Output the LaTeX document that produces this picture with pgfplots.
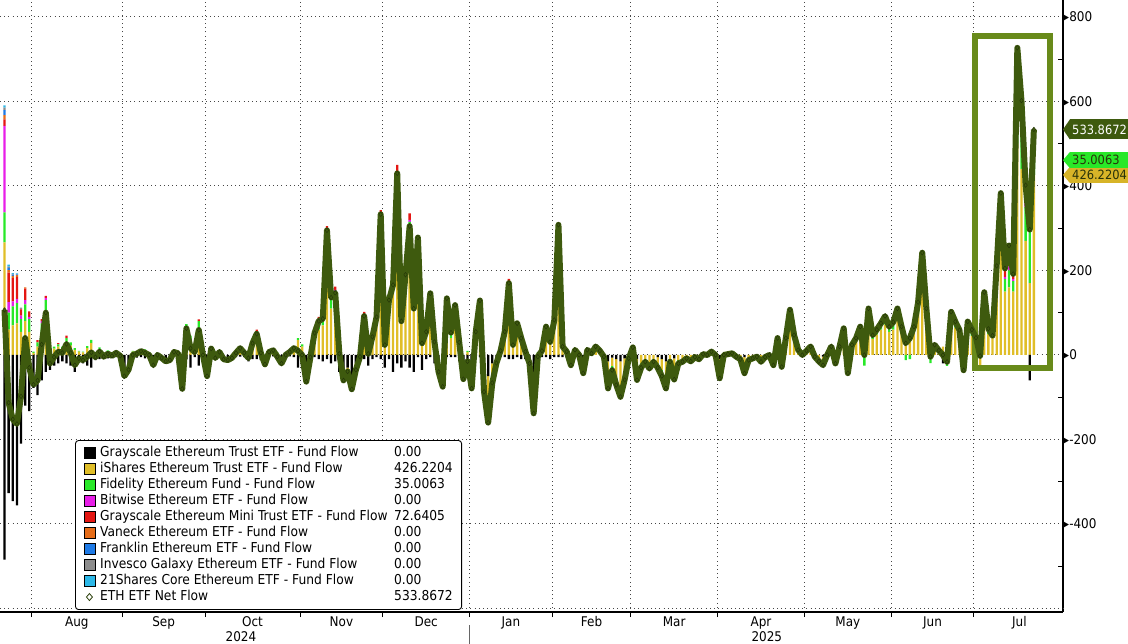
\documentclass[border=0pt]{standalone}
\usepackage{fontspec}
\setmainfont{DejaVu Sans Condensed}
\usepackage{pgfplots}
\pgfplotsset{compat=1.18}
\usepackage{pgfplotstable}
\definecolor{cEthe}{RGB}{0,0,0}
\definecolor{cEtha}{RGB}{224,190,40}
\definecolor{cFeth}{RGB}{40,232,40}
\definecolor{cEthw}{RGB}{232,30,232}
\definecolor{cMini}{RGB}{228,22,18}
\definecolor{cVane}{RGB}{230,108,24}
\definecolor{cFran}{RGB}{30,122,230}
\definecolor{cInve}{RGB}{140,140,140}
\definecolor{cCtw}{RGB}{44,184,232}
\definecolor{cLine}{RGB}{62,90,14}
\definecolor{cRect}{RGB}{104,138,26}
\definecolor{cGrid}{RGB}{70,70,70}
\definecolor{cTagY}{RGB}{215,180,40}
\definecolor{cTagTxt}{RGB}{40,50,10}
\pgfplotstableread{
i net ethe etha feth ethw mini vane fran inve ctw
0 106.6 -484.1 266.5 71.3 204.2 15.7 10 12 6 4.9
1 -113 -327 60 40 25 70 6 5 3 5
2 -152 -346 70 45 12 55 5 3 2 2
3 -163 -356 75 48 10 52 4 2 1 1
4 -98 -210 55 30 8 15 2 1 1 0
5 40 -120 80 40 10 27 3 0 0 0
6 -30 -133 55 30 5 13 0 0 0 0
7 -70 -78 5 3 0 0 0 0 0 0
8 -60 -95 20 10 0 5 0 0 0 0
9 25 -60 50 25 5 5 0 0 0 0
10 100 -40 90 40 5 5 0 0 0 0
11 -20 -35 10 5 0 0 0 0 0 0
12 -5 -25 15 5 0 0 0 0 0 0
13 8 -20 20 5 0 3 0 0 0 0
14 5 -15 15 5 0 0 0 0 0 0
15 26 -20 30 10 0 6 0 0 0 0
16 5 -25 22 8 0 0 0 0 0 0
17 -24 -40 12 4 0 0 0 0 0 0
18 -8 -18 8 2 0 0 0 0 0 0
19 -12 -20 6 2 0 0 0 0 0 0
20 -4 -25 16 5 0 0 0 0 0 0
21 6 -30 28 8 0 0 0 0 0 0
22 -5 -12 5 2 0 0 0 0 0 0
23 8 -10 13 5 0 0 0 0 0 0
24 -4 -9 4 1 0 0 0 0 0 0
25 3 -8 8 3 0 0 0 0 0 0
26 -2 -6 3 1 0 0 0 0 0 0
27 5 -5 8 2 0 0 0 0 0 0
28 -2 -4 2 0 0 0 0 0 0 0
29 -50 -40 -5 -5 0 0 0 0 0 0
30 -35 -30 0 -5 0 0 0 0 0 0
31 0 -10 8 2 0 0 0 0 0 0
32 3 -6 7 2 0 0 0 0 0 0
33 9 -5 11 3 0 0 0 0 0 0
34 5 -8 10 3 0 0 0 0 0 0
35 0 -6 5 1 0 0 0 0 0 0
36 -24 -20 0 -4 0 0 0 0 0 0
37 0 -5 4 1 0 0 0 0 0 0
38 -7 -7 0 0 0 0 0 0 0 0
39 -15 -15 0 0 0 0 0 0 0 0
40 -12 -10 0 -2 0 0 0 0 0 0
41 7 -3 8 2 0 0 0 0 0 0
42 4 -4 6 2 0 0 0 0 0 0
43 -80 -80 0 0 0 0 0 0 0 0
44 63 -10 55 18 0 0 0 0 0 0
45 16 -30 35 11 0 0 0 0 0 0
46 7 -5 9 3 0 0 0 0 0 0
47 59 -25 60 20 0 4 0 0 0 0
48 0 -10 8 2 0 0 0 0 0 0
49 -50 -40 -5 -5 0 0 0 0 0 0
50 15 -5 15 5 0 0 0 0 0 0
51 -7 -10 2 1 0 0 0 0 0 0
52 7 -5 9 3 0 0 0 0 0 0
53 -10 -10 0 0 0 0 0 0 0 0
54 -12 -12 0 0 0 0 0 0 0 0
55 -7 -7 0 0 0 0 0 0 0 0
56 5 -5 8 2 0 0 0 0 0 0
57 16 -4 15 5 0 0 0 0 0 0
58 5 -5 7 3 0 0 0 0 0 0
59 -7 -15 6 2 0 0 0 0 0 0
60 28 -10 28 10 0 0 0 0 0 0
61 50 -10 40 12 0 8 0 0 0 0
62 5 -12 12 5 0 0 0 0 0 0
63 -22 -22 0 0 0 0 0 0 0 0
64 7 -5 9 3 0 0 0 0 0 0
65 11 -3 10 4 0 0 0 0 0 0
66 -4 -10 5 1 0 0 0 0 0 0
67 -20 -20 0 0 0 0 0 0 0 0
68 0 -6 5 1 0 0 0 0 0 0
69 7 -3 7 3 0 0 0 0 0 0
70 16 -5 16 5 0 0 0 0 0 0
71 10 -30 35 5 0 0 0 0 0 0
72 0 -25 20 5 0 0 0 0 0 0
73 -63 -45 -8 -10 0 0 0 0 0 0
74 -5 -20 10 5 0 0 0 0 0 0
75 52 -5 40 15 0 2 0 0 0 0
76 80 -10 60 25 0 5 0 0 0 0
77 86 -15 70 25 0 6 0 0 0 0
78 295 -10 250 40 5 10 0 0 0 0
79 136 -20 110 35 5 6 0 0 0 0
80 147 -15 120 30 4 8 0 0 0 0
81 3 -40 30 10 0 3 0 0 0 0
82 -60 -40 -10 -10 0 0 0 0 0 0
83 -39 -30 -5 -4 0 0 0 0 0 0
84 -81 -50 -15 -16 0 0 0 0 0 0
85 -35 -20 -10 -5 0 0 0 0 0 0
86 -4 -15 8 3 0 0 0 0 0 0
87 92 -10 75 20 0 7 0 0 0 0
88 3 -25 20 8 0 0 0 0 0 0
89 43 -10 40 10 0 3 0 0 0 0
90 90 -5 70 20 0 5 0 0 0 0
91 333 -10 250 70 8 15 0 0 0 0
92 24 -30 40 12 0 2 0 0 0 0
93 130 -10 100 30 0 10 0 0 0 0
94 166 -40 150 45 3 8 0 0 0 0
95 430 -20 300 120 5 25 0 0 0 0
96 80 -30 80 25 0 5 0 0 0 0
97 190 -15 150 45 0 10 0 0 0 0
98 305 -30 250 65 5 15 0 0 0 0
99 110 -40 110 30 0 10 0 0 0 0
100 278 -5 200 50 8 25 0 0 0 0
101 28 -35 45 15 3 0 0 0 0 0
102 55 -10 45 15 0 5 0 0 0 0
103 146 -5 110 35 0 6 0 0 0 0
104 31 -20 40 11 0 0 0 0 0 0
105 -40 -20 -10 -10 0 0 0 0 0 0
106 -75 -30 -25 -15 0 -5 0 0 0 0
107 134 -5 100 35 0 4 0 0 0 0
108 53 -5 40 15 0 3 0 0 0 0
109 118 -5 90 28 0 5 0 0 0 0
110 30 -15 35 10 0 0 0 0 0 0
111 -57 -20 -25 -12 0 0 0 0 0 0
112 -15 -25 7 3 0 0 0 0 0 0
113 -79 -20 -40 -15 0 -4 0 0 0 0
114 55 -10 45 15 0 5 0 0 0 0
115 129 -5 100 28 0 6 0 0 0 0
116 -87 -40 -30 -17 0 0 0 0 0 0
117 -160 -50 -60 -50 0 0 0 0 0 0
118 -66 -20 -30 -16 0 0 0 0 0 0
119 -19 -10 -5 -4 0 0 0 0 0 0
120 10 -5 10 5 0 0 0 0 0 0
121 55 -5 45 15 0 0 0 0 0 0
122 170 -10 130 40 0 10 0 0 0 0
123 24 -10 25 9 0 0 0 0 0 0
124 75 -5 60 15 0 5 0 0 0 0
125 40 -10 35 12 0 3 0 0 0 0
126 8 -10 14 4 0 0 0 0 0 0
127 -20 -12 -5 -3 0 0 0 0 0 0
128 -138 -40 -70 -28 0 0 0 0 0 0
129 -4 -10 4 2 0 0 0 0 0 0
130 10 -5 11 4 0 0 0 0 0 0
131 67 -5 55 15 0 2 0 0 0 0
132 31 -10 30 8 3 0 0 0 0 0
133 83 -5 65 18 0 5 0 0 0 0
134 308 -5 280 25 0 8 0 0 0 0
135 20 -5 18 7 0 0 0 0 0 0
136 8 -5 10 3 0 0 0 0 0 0
137 -24 -10 -8 -6 0 0 0 0 0 0
138 12 0 10 2 0 0 0 0 0 0
139 0 -3 2 1 0 0 0 0 0 0
140 -43 -10 -20 -13 0 0 0 0 0 0
141 12 0 9 3 0 0 0 0 0 0
142 4 0 3 1 0 0 0 0 0 0
143 20 0 15 5 0 0 0 0 0 0
144 10 0 7 3 0 0 0 0 0 0
145 -4 -4 0 0 0 0 0 0 0 0
146 -79 -15 -40 -24 0 0 0 0 0 0
147 -36 -6 -20 -10 0 0 0 0 0 0
148 -71 -10 -45 -16 0 0 0 0 0 0
149 -99 -15 -60 -24 0 0 0 0 0 0
150 -59 -8 -35 -16 0 0 0 0 0 0
151 -8 0 -5 -3 0 0 0 0 0 0
152 18 0 13 5 0 0 0 0 0 0
153 -59 -10 -30 -19 0 0 0 0 0 0
154 -30 0 -20 -10 0 0 0 0 0 0
155 -16 0 -10 -6 0 0 0 0 0 0
156 -32 0 -20 -12 0 0 0 0 0 0
157 -16 0 -10 -6 0 0 0 0 0 0
158 -30 -5 -15 -10 0 0 0 0 0 0
159 -50 -10 -25 -15 0 0 0 0 0 0
160 -79 -15 -40 -24 0 0 0 0 0 0
161 -16 0 -10 -6 0 0 0 0 0 0
162 -58 -8 -35 -15 0 0 0 0 0 0
163 -20 0 -12 -8 0 0 0 0 0 0
164 -16 0 -10 -6 0 0 0 0 0 0
165 -8 0 -5 -3 0 0 0 0 0 0
166 -15 0 -10 -5 0 0 0 0 0 0
167 -5 0 -3 -2 0 0 0 0 0 0
168 -10 0 -6 -4 0 0 0 0 0 0
169 2 0 2 0 0 0 0 0 0 0
170 0 0 0 0 0 0 0 0 0 0
171 8 0 6 2 0 0 0 0 0 0
172 0 0 0 0 0 0 0 0 0 0
173 -55 -10 -30 -15 0 0 0 0 0 0
174 0 0 0 0 0 0 0 0 0 0
175 2 0 2 0 0 0 0 0 0 0
176 4 0 3 1 0 0 0 0 0 0
177 -4 0 0 -4 0 0 0 0 0 0
178 -10 0 -6 -4 0 0 0 0 0 0
179 -43 -5 -25 -13 0 0 0 0 0 0
180 -12 0 -7 -5 0 0 0 0 0 0
181 -8 0 -5 -3 0 0 0 0 0 0
182 -4 0 0 -4 0 0 0 0 0 0
183 -16 0 -10 -6 0 0 0 0 0 0
184 -5 0 -3 -2 0 0 0 0 0 0
185 0 0 0 0 0 0 0 0 0 0
186 -24 0 -14 -10 0 0 0 0 0 0
187 40 0 30 10 0 0 0 0 0 0
188 -28 -5 -13 -10 0 0 0 0 0 0
189 40 0 30 10 0 0 0 0 0 0
190 107 0 85 17 0 5 0 0 0 0
191 47 0 38 9 0 0 0 0 0 0
192 12 0 9 3 0 0 0 0 0 0
193 0 0 0 0 0 0 0 0 0 0
194 10 0 8 2 0 0 0 0 0 0
195 20 0 15 5 0 0 0 0 0 0
196 -4 0 0 -4 0 0 0 0 0 0
197 -15 0 -10 -5 0 0 0 0 0 0
198 -24 -4 -12 -8 0 0 0 0 0 0
199 0 0 0 0 0 0 0 0 0 0
200 20 0 15 5 0 0 0 0 0 0
201 -20 -5 -10 -5 0 0 0 0 0 0
202 20 0 15 5 0 0 0 0 0 0
203 63 0 50 13 0 0 0 0 0 0
204 -43 -5 -25 -13 0 0 0 0 0 0
205 24 0 18 6 0 0 0 0 0 0
206 40 0 32 8 0 0 0 0 0 0
207 67 0 52 10 0 5 0 0 0 0
208 0 0 25 -25 0 0 0 0 0 0
209 110 0 85 15 0 10 0 0 0 0
210 47 0 38 9 0 0 0 0 0 0
211 60 0 48 12 0 0 0 0 0 0
212 75 0 60 15 0 0 0 0 0 0
213 92 0 72 20 0 0 0 0 0 0
214 67 0 55 12 0 0 0 0 0 0
215 78 0 60 18 0 0 0 0 0 0
216 110 0 85 20 0 5 0 0 0 0
217 67 0 55 12 0 0 0 0 0 0
218 28 0 40 -12 0 0 0 0 0 0
219 40 0 50 -10 0 0 0 0 0 0
220 67 0 55 12 0 0 0 0 0 0
221 125 0 100 25 0 0 0 0 0 0
222 242 0 190 40 0 12 0 0 0 0
223 110 0 85 20 0 5 0 0 0 0
224 -4 0 15 -19 0 0 0 0 0 0
225 24 0 20 4 0 0 0 0 0 0
226 11 0 9 2 0 0 0 0 0 0
227 0 -20 20 0 0 0 0 0 0 0
228 -16 0 10 -26 0 0 0 0 0 0
229 102 0 80 22 0 0 0 0 0 0
230 79 0 65 14 0 0 0 0 0 0
231 59 0 50 9 0 0 0 0 0 0
232 -36 -15 -11 -10 0 0 0 0 0 0
233 79 0 60 19 0 0 0 0 0 0
234 60 0 45 15 0 0 0 0 0 0
235 41 0 50 -9 0 0 0 0 0 0
236 -2 0 -35 33 0 0 0 0 0 0
237 148.5 0 110 25 0 13.5 0 0 0 0
238 62 0 50 12 0 0 0 0 0 0
239 46 0 40 6 0 0 0 0 0 0
240 211 0 160 35 0 16 0 0 0 0
241 383 0 300 60 0 23 0 0 0 0
242 205 0 150 30 5 20 0 0 0 0
243 259 0 160 40 10 49 0 0 0 0
244 192 0 150 25 5 12 0 0 0 0
245 727 0 500 110 30 60 10 7 5 5
246 602 0 440 100 20 35 7 0 0 0
247 402 0 270 80 10 42 0 0 0 0
248 297 -60 170 132 8 47 0 0 0 0
249 533.8672 0 426.2204 35.0063 0 72.6405 0 0 0 0
}\flows
\pgfplotsset{
  base/.style={
    at={(0bp,32bp)}, anchor=south west, scale only axis,
    width=1063bp, height=612bp,
    xmin=-1.0885, xmax=256.05, ymin=-608.3, ymax=840.2,
  },
}
\begin{document}
\begin{tikzpicture}
\useasboundingbox (0,0) rectangle (1128bp,644bp);
% ---------- axis 1: frame, grid, positive stacks ----------
\begin{axis}[base, ybar stacked, bar width=2.3bp, clip=false,
  axis x line*=bottom, axis y line*=right,
  axis line style={-, line width=1.4bp, black},
  xtick={17.5,38.5,60,81.5,102,122.5,142,162,183,204,224.5,245.5},
  xticklabels={Aug,Sep,Oct,Nov,Dec,Jan,Feb,Mar,Apr,May,Jun,Jul},
  minor xtick={6.5,28.5,48.5,71.5,91.5,112.5,132.5,151.5,172.5,193.5,214.5,234.5},
  xminorgrids=true, xmajorgrids=false,
  ytick={-400,-200,0,200,400,600,800},
  yticklabels={▸-400,▸-200,▸0,▸200,▸400,▸600,▸800},
  minor ytick={-500,-300,-100,100,300,500,700},
  ymajorgrids=true,
  extra y ticks={-600}, extra y tick labels={},
  extra y tick style={grid=major, major tick length=0pt},
  major tick length=0pt, minor tick length=5bp, tick align=inside,
  minor tick style={black, line width=1bp},
  minor x tick style={yshift=-5bp},
  grid style={cGrid, line width=1bp, dash pattern=on 1bp off 3.2bp},
  minor grid style={cGrid, line width=1bp, dash pattern=on 1bp off 3.2bp},
  yticklabel pos=right,
  yticklabel style={anchor=west, inner xsep=0pt, font=\fontsize{13.4}{15}\selectfont},
  xticklabel style={anchor=base, yshift=-14bp, font=\fontsize{13.4}{15}\selectfont},
]
\addplot[fill=cEthe, draw=none] table[x=i, y expr={max(\thisrow{ethe},0)}]{\flows};
\addplot[fill=cEtha, draw=none] table[x=i, y expr={max(\thisrow{etha},0)}]{\flows};
\addplot[fill=cFeth, draw=none] table[x=i, y expr={max(\thisrow{feth},0)}]{\flows};
\addplot[fill=cEthw, draw=none] table[x=i, y expr={max(\thisrow{ethw},0)}]{\flows};
\addplot[fill=cMini, draw=none] table[x=i, y expr={max(\thisrow{mini},0)}]{\flows};
\addplot[fill=cVane, draw=none] table[x=i, y expr={max(\thisrow{vane},0)}]{\flows};
\addplot[fill=cFran, draw=none] table[x=i, y expr={max(\thisrow{fran},0)}]{\flows};
\addplot[fill=cInve, draw=none] table[x=i, y expr={max(\thisrow{inve},0)}]{\flows};
\addplot[fill=cCtw, draw=none] table[x=i, y expr={max(\thisrow{ctw},0)}]{\flows};
\draw[black!60, line width=0.8bp] ([yshift=-13bp]axis cs:112.5,-608.3) -- ([yshift=-32bp]axis cs:112.5,-608.3);
\node[anchor=base, font=\fontsize{13.4}{15}\selectfont] at ([yshift=-29bp]axis cs:57.2,-608.3) {2024};
\node[anchor=base, font=\fontsize{13.4}{15}\selectfont] at ([yshift=-29bp]axis cs:184.4,-608.3) {2025};
\end{axis}
% ---------- axis 2: negative stacks ----------
\begin{axis}[base, hide axis, ybar stacked, bar width=2.3bp]
\addplot[fill=cEthe, draw=none] table[x=i, y expr={min(\thisrow{ethe},0)}]{\flows};
\addplot[fill=cEtha, draw=none] table[x=i, y expr={min(\thisrow{etha},0)}]{\flows};
\addplot[fill=cFeth, draw=none] table[x=i, y expr={min(\thisrow{feth},0)}]{\flows};
\addplot[fill=cEthw, draw=none] table[x=i, y expr={min(\thisrow{ethw},0)}]{\flows};
\addplot[fill=cMini, draw=none] table[x=i, y expr={min(\thisrow{mini},0)}]{\flows};
\end{axis}
% ---------- axis 3: net line, highlight, legend, tags ----------
\begin{axis}[base, hide axis, clip=false,
  legend cell align=left,
  legend image code/.code={\fill[#1, sharp corners] (0bp,-5.5bp) rectangle (11bp,5.5bp);},
  legend style={at={(rel axis cs:0.0706,0.0033)}, anchor=south west,
    draw=black, line width=0.9bp, rounded corners=3bp, fill=white,
    inner xsep=8bp, inner ysep=4.5bp, row sep=0bp,
    font=\fontsize{13.7}{15}\selectfont,
    nodes={inner sep=0.8bp, text height=10.8bp, text depth=3.6bp},
    /tikz/every odd column/.append style={column sep=4bp}},
]
\draw[cRect, line width=6bp] (axis cs:234.8,755) rectangle (axis cs:252.9,-31);
\addplot[cLine, line width=6bp, line join=round, forget plot,
  mark=diamond*, mark size=2.3bp,
  mark options={fill=cLine, draw=black!40!cLine, line width=0.5bp}]
  table[x=i, y=net]{\flows};
\addlegendimage{fill=cEthe}
\addlegendentry{\makebox[294bp][l]{Grayscale Ethereum Trust ETF - Fund Flow}0.00}
\addlegendimage{fill=cEtha}
\addlegendentry{\makebox[294bp][l]{iShares Ethereum Trust ETF - Fund Flow}426.2204}
\addlegendimage{fill=cFeth}
\addlegendentry{\makebox[294bp][l]{Fidelity Ethereum Fund - Fund Flow}35.0063}
\addlegendimage{fill=cEthw}
\addlegendentry{\makebox[294bp][l]{Bitwise Ethereum ETF - Fund Flow}0.00}
\addlegendimage{fill=cMini}
\addlegendentry{\makebox[294bp][l]{Grayscale Ethereum Mini Trust ETF - Fund Flow}72.6405}
\addlegendimage{fill=cVane}
\addlegendentry{\makebox[294bp][l]{Vaneck Ethereum ETF - Fund Flow}0.00}
\addlegendimage{fill=cFran}
\addlegendentry{\makebox[294bp][l]{Franklin Ethereum ETF - Fund Flow}0.00}
\addlegendimage{fill=cInve}
\addlegendentry{\makebox[294bp][l]{Invesco Galaxy Ethereum ETF - Fund Flow}0.00}
\addlegendimage{fill=cCtw}
\addlegendentry{\makebox[294bp][l]{21Shares Core Ethereum ETF - Fund Flow}0.00}
\addlegendimage{legend image code/.code={\draw[black!30!cLine, line width=0.8bp, sharp corners] (5.5bp,-3.5bp) -- (8.5bp,0bp) -- (5.5bp,3.5bp) -- (2.5bp,0bp) -- cycle;}}
\addlegendentry{\makebox[294bp][l]{ETH ETF Net Flow}533.8672}
% value tags
\node[fill=cTagY, text=cTagTxt, anchor=west, inner xsep=2bp, inner ysep=0pt,
  minimum height=16bp, text width=55bp, align=left, font=\fontsize{12.8}{14}\selectfont]
  (t3) at ([xshift=7bp]axis cs:256.05,426.2204) {426.2204};
\fill[cTagY] (t3.north west) -- ([xshift=-7bp]t3.west) -- (t3.south west) -- cycle;
\node[fill=cFeth, text=cTagTxt, anchor=west, inner xsep=2bp, inner ysep=0pt,
  minimum height=16bp, text width=55bp, align=left, font=\fontsize{12.8}{14}\selectfont]
  (t2) at ([xshift=7bp]axis cs:256.05,461.2267) {35.0063};
\fill[cFeth] (t2.north west) -- ([xshift=-7bp]t2.west) -- (t2.south west) -- cycle;
\node[fill=cLine, text=white, anchor=west, inner xsep=2bp, inner ysep=0pt,
  minimum height=20bp, text width=55bp, align=left, font=\fontsize{12.8}{14}\selectfont]
  (t1) at ([xshift=7bp]axis cs:256.05,533.8672) {533.8672};
\fill[cLine] (t1.north west) -- ([xshift=-7bp]t1.west) -- (t1.south west) -- cycle;
\end{axis}
\end{tikzpicture}
\end{document}
